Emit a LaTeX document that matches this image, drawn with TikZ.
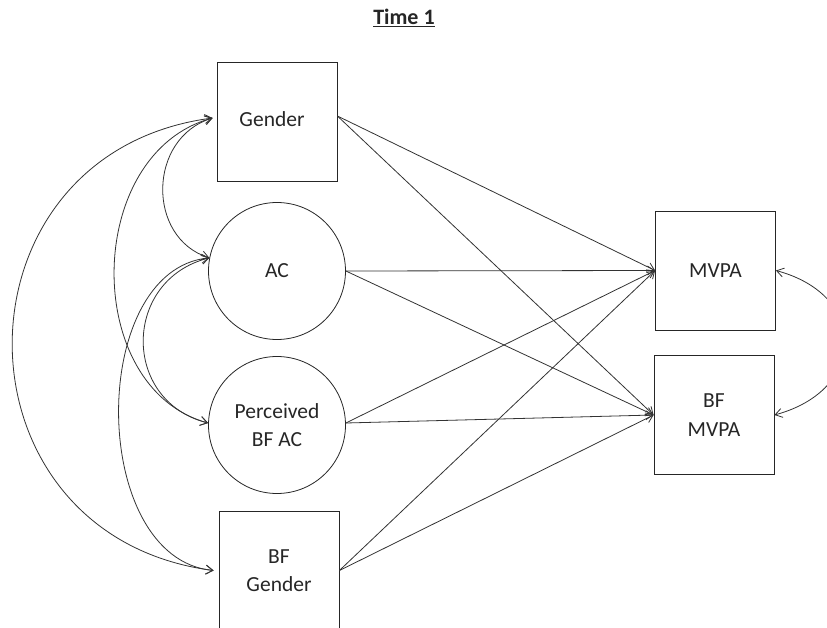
\documentclass[tikz,border=0pt]{standalone}
\usepackage{fontspec}
\setmainfont{Carlito}
\usetikzlibrary{arrows.meta}
\begin{document}
\begin{tikzpicture}[x=1pt,y=-1pt,
  lbl/.style={font=\fontsize{21.5}{28.5}\selectfont, text=black!85, align=center},
  box/.style={lbl, draw=black!85, line width=0.8pt, minimum width=120pt, minimum height=119pt, inner sep=0pt},
  latent/.style={lbl, circle, draw=black!85, line width=0.8pt, minimum size=137pt, inner sep=0pt},
  tip/.tip={Straight Barb[length=7pt,width=9pt]},
  path/.style={draw=black!80, line width=0.8pt, -tip},
  cov/.style={draw=black!80, line width=0.8pt, tip-tip}]
\useasboundingbox (0,0) rectangle (827,628);
\clip (0,0) rectangle (827,628);

% title
\node[font=\fontsize{22}{26}\selectfont\bfseries, text=black!85, anchor=base] (title) at (404,25) {\underline{Time 1}};

% predictors
\node[box] (gender) at (277,121.5) {\raisebox{5pt}{Gender}\hspace{10pt}};
\node[latent] (ac) at (277,271) {AC};
\node[latent] (pac) at (277,425) {Perceived\\BF AC};
\node[box] (bfg) at (279,570.5) {BF\\Gender};

% outcomes
\node[box] (mvpa) at (715.5,270.5) {MVPA};
\node[box] (bfmvpa) at (714,415) {BF\\MVPA};

% regression paths
\draw[path] ([yshift=5.5pt]gender.east) -- (mvpa.west);
\draw[path] ([yshift=5.5pt]gender.east) -- (bfmvpa.west);
\draw[path] (ac.east) -- (mvpa.west);
\draw[path] (ac.east) -- (bfmvpa.west);
\draw[path] ([yshift=2pt]pac.east) -- (mvpa.west);
\draw[path] ([yshift=2pt]pac.east) -- (bfmvpa.west);
\draw[path] (bfg.east) -- (mvpa.west);
\draw[path] (bfg.east) -- (bfmvpa.west);

% covariances among predictors
\coordinate (gL) at ([xshift=-4pt,yshift=3.5pt]gender.west);
\coordinate (acL) at (ac.169);
\coordinate (pacL) at ([yshift=2pt]pac.west);
\coordinate (bfgL) at ([xshift=-5pt]bfg.west);

\draw[cov] (gL) .. controls +(-65,20) and +(-63,-20) .. (acL);
\draw[cov] (gL) .. controls +(-129,35) and +(-127,-35) .. (pacL);
\draw[cov] (gL) .. controls +(-267,35) and +(-268,-35) .. (bfgL);
\draw[cov] (acL) .. controls +(-87,22) and +(-87,-22) .. (pacL);
\draw[cov] (acL) .. controls +(-122,12) and +(-125,-12) .. (bfgL);

% residual covariance of outcomes
\draw[cov] (mvpa.east) .. controls +(93,25) and +(93,-25) .. (bfmvpa.east);
\end{tikzpicture}
\end{document}
